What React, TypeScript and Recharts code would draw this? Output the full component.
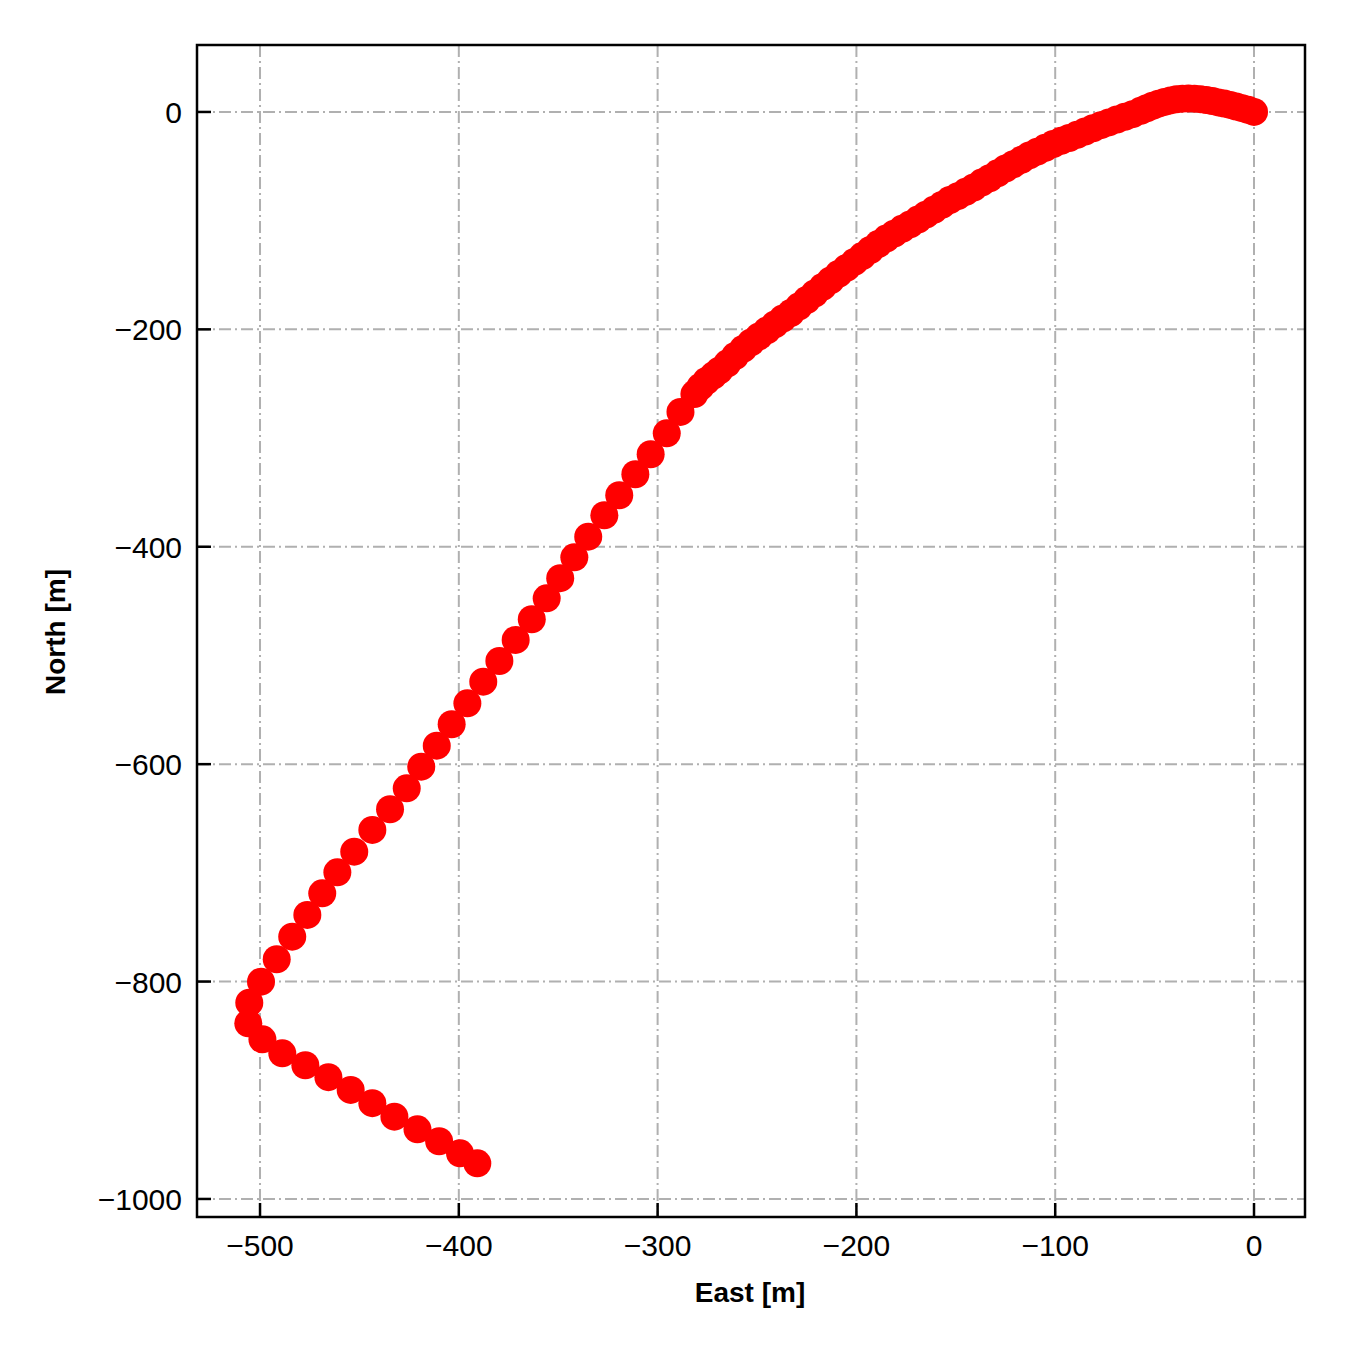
/**
 * Track plot: East vs North positions in metres, drawn as red dots.
 */
import {
  CartesianGrid,
  ReferenceArea,
  Scatter,
  ScatterChart,
  XAxis,
  YAxis,
} from "recharts";

// East [m] of every recorded position, start (0, 0) first
const EAST = [
  0, -3, -6, -9, -12, -15, -18, -21, -24, -27, -30, -33, -36, -39, -42, -45,
  -48, -51, -54, -57, -61, -65, -69, -73, -77, -81, -85, -89, -93, -97, -101,
  -105, -109, -113, -117, -121, -125, -129, -133, -137, -141, -145, -149, -153,
  -157, -161, -165, -169, -173, -177, -181, -185, -189, -193, -197, -201, -205,
  -209, -213, -217, -221, -225, -229, -233, -237, -241, -245, -249, -253, -257,
  -261, -265, -269, -272, -275.5, -278.5, -281.5, -288.5, -295.4, -303.5,
  -311.2, -319.3, -326.8, -334.9, -341.9, -349.0, -355.8, -363.3, -371.4,
  -379.6, -387.7, -395.7, -403.6, -411.1, -418.9, -426.2, -434.6, -443.5,
  -452.6, -461.1, -468.7, -476.2, -483.8, -491.6, -499.5, -505.4, -505.9,
  -498.8, -488.8, -477.2, -465.6, -454.4, -443.5, -432.4, -420.8, -409.9,
  -399.4, -390.7,
];

// North [m] for the same positions
const NORTH = [
  0, 2, 3.5, 5, 6.5, 7.8, 8.8, 10, 11, 11.8, 12.2, 12.4, 12.2, 11.6, 10.6, 9.2,
  7.6, 5.6, 3.4, 1.0, -2, -4.5, -7, -9.6, -12.2, -15, -18, -21, -24, -26.5,
  -29.5, -33, -36.5, -40, -44, -48, -52, -56.5, -61, -65, -69.5, -73.5, -77.5,
  -81, -85.5, -90, -94.5, -99, -103.5, -107.5, -112, -116.5, -121.5, -127,
  -132.5, -138, -143.5, -149, -155, -161, -167, -173, -179, -185, -190, -195.5,
  -201, -206.5, -212, -218, -224.5, -231.5, -238, -242.5, -247.5, -253, -259.5,
  -276, -295.6, -314.9, -333.3, -352.6, -371.0, -390.7, -409.7, -428.9,
  -447.4, -466.7, -485.7, -505.1, -524.1, -544.0, -563.3, -583.0, -602.3,
  -622.2, -641.5, -660.5, -680.5, -699.5, -718.8, -738.7, -758.7, -779.5,
  -800.1, -819.4, -838.4, -853.1, -866.0, -877.0, -888.0, -899.7, -911.9,
  -924.3, -935.9, -946.9, -958.0, -967.2,
];

const X_TICKS = [-500, -400, -300, -200, -100, 0];
const Y_TICKS = [0, -200, -400, -600, -800, -1000];

const X_DOMAIN: [number, number] = [-531.7, 25.65];
const Y_DOMAIN: [number, number] = [-1016.6, 61.6];

const FONT = "'Liberation Sans', Arial, sans-serif";
const GRID = "#b0b0b0";
const TICK_LEN = 14;
const X_MARGIN = 29;
const Y_MARGIN = 15;

const points = EAST.map((e, i) => ({ east: e, north: NORTH[i] }));

const fmt = (v: number) => (v < 0 ? `\u2212${Math.abs(v)}` : `${v}`);

function Dot(p: any) {
  return <circle cx={p.cx} cy={p.cy} r={14} fill="#ff0000" />;
}

// bottom tick: inward tick mark + label below the axis
function XTick(p: any) {
  const axisY = p.y - X_MARGIN;
  return (
    <g>
      <line x1={p.x} x2={p.x} y1={axisY} y2={axisY - TICK_LEN} stroke="#000" strokeWidth={2.5} />
      <text x={p.x} y={p.y + 10} textAnchor="middle" fontFamily={FONT} fontSize={30} fill="#000">
        {fmt(p.payload.value)}
      </text>
    </g>
  );
}

// left tick: inward tick mark + label to the left
function YTick(p: any) {
  const axisX = p.x + Y_MARGIN;
  return (
    <g>
      <line x1={axisX} x2={axisX + TICK_LEN} y1={p.y} y2={p.y} stroke="#000" strokeWidth={2.5} />
      <text x={p.x} y={p.y + 11} textAnchor="end" fontFamily={FONT} fontSize={30} fill="#000">
        {fmt(p.payload.value)}
      </text>
    </g>
  );
}

export default function App() {
  return (
    <div style={{ position: "absolute", left: 0, top: 0, background: "#fff" }}>
      <ScatterChart
        width={1350}
        height={1350}
        margin={{ top: 45, right: 45, bottom: 73, left: 97 }}
      >
        <CartesianGrid
          stroke={GRID}
          strokeWidth={2}
          strokeDasharray="12 4 2 4"
          horizontalValues={Y_TICKS}
          verticalValues={X_TICKS}
        />
        <XAxis
          type="number"
          dataKey="east"
          domain={X_DOMAIN}
          ticks={X_TICKS}
          allowDataOverflow
          height={60}
          tickSize={0}
          tickMargin={X_MARGIN}
          axisLine={false}
          tickLine={false}
          tick={<XTick />}
          label={{
            content: () => (
              <text
                x={750}
                y={1302}
                textAnchor="middle"
                fontFamily={FONT}
                fontWeight="bold"
                fontSize={28}
                fill="#000"
              >
                East [m]
              </text>
            ),
          }}
        />
        <YAxis
          type="number"
          dataKey="north"
          domain={Y_DOMAIN}
          ticks={Y_TICKS}
          allowDataOverflow
          width={100}
          tickSize={0}
          tickMargin={Y_MARGIN}
          axisLine={false}
          tickLine={false}
          tick={<YTick />}
          label={{
            content: () => (
              <text
                x={65}
                y={632}
                transform="rotate(-90, 65, 632)"
                textAnchor="middle"
                fontFamily={FONT}
                fontWeight="bold"
                fontSize={28}
                fill="#000"
              >
                North [m]
              </text>
            ),
          }}
        />
        <Scatter data={points} shape={Dot} isAnimationActive={false} />
        {/* plot frame */}
        <ReferenceArea
          x1={X_DOMAIN[0]}
          x2={X_DOMAIN[1]}
          y1={Y_DOMAIN[0]}
          y2={Y_DOMAIN[1]}
          fill="none"
          fillOpacity={0}
          stroke="#000"
          strokeWidth={2.5}
          ifOverflow="visible"
        />
      </ScatterChart>
    </div>
  );
}
